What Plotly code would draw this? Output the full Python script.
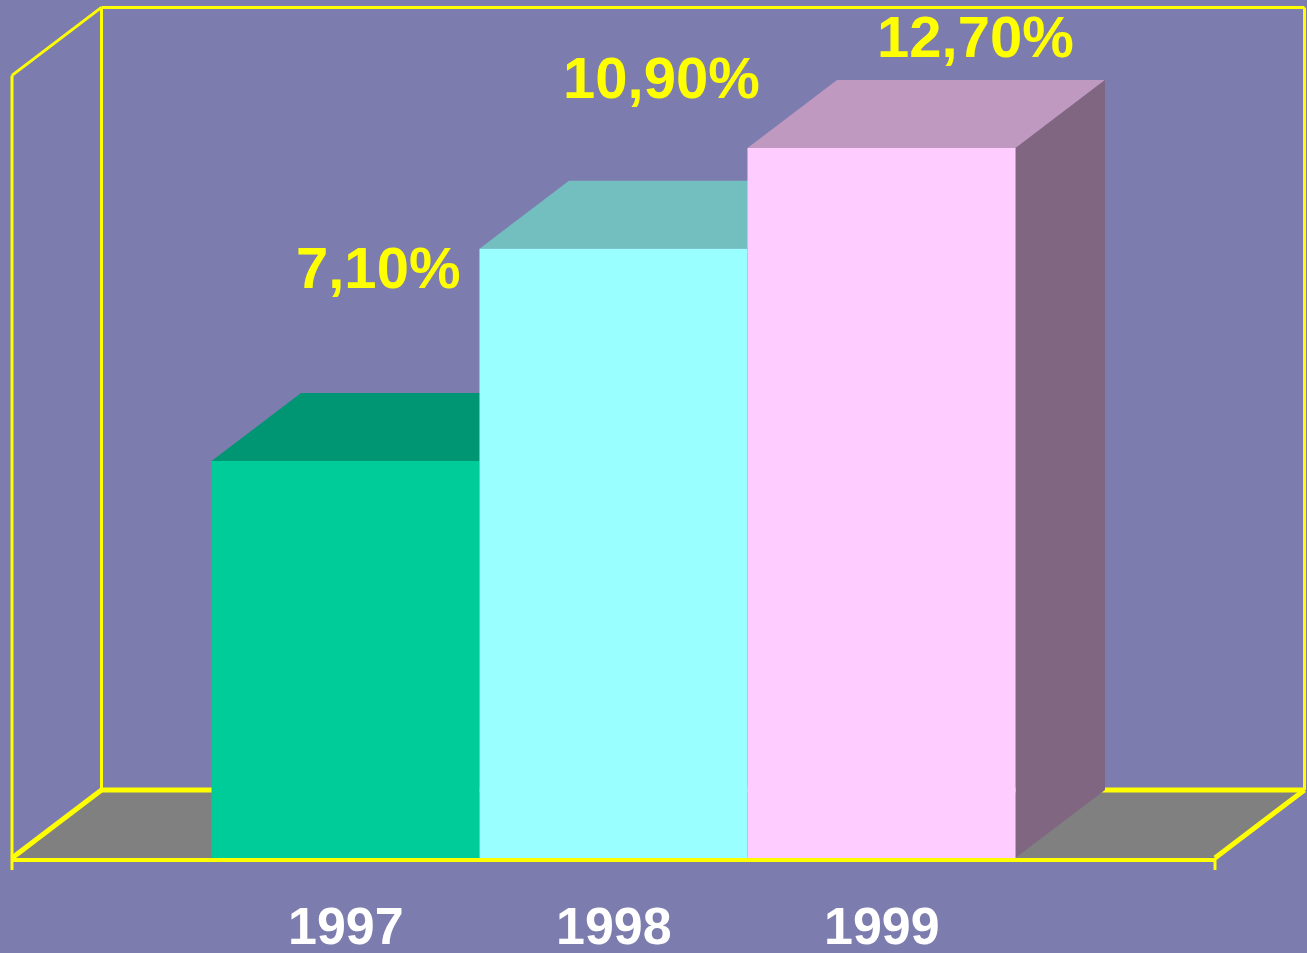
import plotly.graph_objects as go

# ---- data ----
years = ["1997", "1998", "1999"]
values = [7.1, 10.9, 12.7]
value_labels = ["7,10%", "10,90%", "12,70%"]

# ---- style ----
front_colors = ["#00CC99", "#99FFFF", "#FFCCFF"]
top_colors = ["#009673", "#73BFBF", "#BF99C0"]
side_colors = ["#00664D", "#4D8080", "#806680"]
BG = "#7C7CAE"
YEL = "#FFFF00"
FLOOR = "#808080"

W, H = 1307, 953
PX_X = 268.0      # px per x unit
PX_Y = 55.9       # px per y unit
X0PX = 345.5      # pixel x of category 0
Y0PX = 858.0      # pixel y of value 0

def X(px):
    return (px - X0PX) / PX_X

def Y(py):
    return (Y0PX - py) / PX_Y

DX = 89.5 / PX_X   # depth offset in x units
DY = 68.0 / PX_Y   # depth offset in y units
YMAX = 14.0
XL, XR = X(12), X(1215)   # floor front corners
BW = 1.0                  # bar width

xs = list(range(len(years)))

fig = go.Figure()
fig.add_trace(go.Bar(
    x=xs, y=values, width=BW,
    marker=dict(color=front_colors, line=dict(width=0)),
    hoverinfo="skip", showlegend=False,
))

shapes = []

def poly(pts, fill, line_color=None, line_width=0, layer="below"):
    path = "M " + " L ".join(f"{a},{b}" for a, b in pts) + " Z"
    return dict(type="path", path=path, xref="x", yref="y", fillcolor=fill,
                layer=layer, line=dict(width=line_width, color=line_color or fill))

def seg(x0, y0, x1, y1, w, layer="below"):
    return dict(type="line", x0=x0, y0=y0, x1=x1, y1=y1, xref="x", yref="y",
                layer=layer, line=dict(color=YEL, width=w))

# back wall & left wall thin lines
shapes.append(seg(XL + DX, DY, XL + DX, YMAX + DY, 3))
shapes.append(seg(XL + DX, YMAX + DY, XR + DX, YMAX + DY, 3))
shapes.append(seg(XR + DX, DY, XR + DX, YMAX + DY, 3))
shapes.append(seg(XL, YMAX, XL + DX, YMAX + DY, 3))
shapes.append(seg(XL, Y(870), XL, YMAX, 3))
shapes.append(seg(XR, Y(870), XR, 0, 3))

# floor
shapes.append(poly([(XL, 0), (XR, 0), (XR + DX, DY), (XL + DX, DY)], FLOOR))
shapes.append(seg(XL + DX, DY, XR + DX, DY, 5))
shapes.append(seg(XR, 0, XR + DX, DY, 5))
shapes.append(seg(XL, 0, XL + DX, DY, 5))

# tops and sides of bars
for i, v in enumerate(values):
    l, r = xs[i] - BW / 2, xs[i] + BW / 2
    shapes.append(poly([(l, v), (r, v), (r + DX, v + DY), (l + DX, v + DY)], top_colors[i]))
    shapes.append(poly([(r, 0), (r, v), (r + DX, v + DY), (r + DX, DY)], side_colors[i]))

# floor front edge (in front of the bars' bottoms)
shapes.append(seg(XL, Y(860), XR, Y(860), 4, layer="above"))

fig.update_layout(shapes=shapes)

# value labels (hand-placed offsets relative to bar)
label_dx = [0.12, 0.18, 0.35]
label_dy = [3.47, 3.06, 1.99]
for i, v in enumerate(values):
    fig.add_annotation(x=xs[i] + label_dx[i], y=v + label_dy[i], text=value_labels[i],
                       showarrow=False, xanchor="center", yanchor="middle",
                       font=dict(family="Liberation Sans, Arial", size=58, color=YEL, weight="bold"))

# category labels
for i, yr in enumerate(years):
    fig.add_annotation(x=xs[i], y=Y(926), text=yr, showarrow=False,
                       xanchor="center", yanchor="middle",
                       font=dict(family="Liberation Sans, Arial", size=52, color="#FFFFFF", weight="bold"))

fig.update_layout(
    width=W, height=H,
    margin=dict(l=0, r=0, t=0, b=0),
    paper_bgcolor=BG, plot_bgcolor=BG,
    xaxis=dict(range=[X(0), X(W)], visible=False, fixedrange=True),
    yaxis=dict(range=[Y(H), Y(0)], visible=False, fixedrange=True),
    barmode="overlay",
    showlegend=False,
)

fig.write_html("out.html", config={"displayModeBar": False},
               post_script="document.body.style.margin='0';document.body.style.overflow='hidden';document.body.style.background='" + BG + "';")
